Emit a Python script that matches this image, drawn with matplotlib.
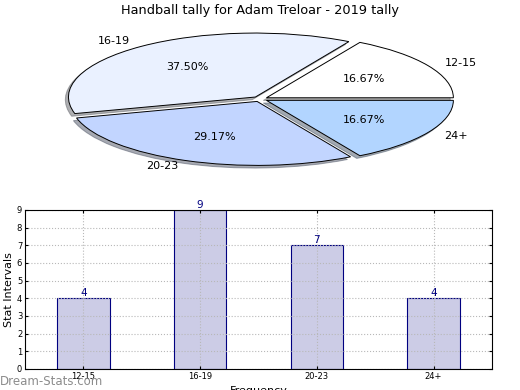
import numpy as np
import matplotlib
matplotlib.use("Agg")
import matplotlib.pyplot as plt

title = "Handball tally for Adam Treloar - 2019 tally"
categories = ["12-15", "16-19", "20-23", "24+"]
counts = [4, 9, 7, 4]
pie_colors = ["#ffffff", "#eaf1ff", "#c2d5ff", "#b2d5ff"]

fig = plt.figure(figsize=(5.2, 3.9), dpi=100)

# pie on top, squashed into an ellipse
ax_pie = fig.add_axes([0.1404, 0.582, 0.719, 0.328])
wedges, texts, autotexts = ax_pie.pie(
    counts,
    labels=categories,
    colors=pie_colors,
    explode=[0.04] * len(counts),
    autopct="%.2f%%",
    pctdistance=0.6,
    labeldistance=1.1,
    startangle=0,
    shadow={"ox": -0.012, "oy": -0.03, "shade": 0.6},
    wedgeprops=dict(edgecolor="black", linewidth=0.7),
    textprops=dict(fontsize=8),
)
ax_pie.set_aspect("auto")
ax_pie.set_xlim(-1.0, 1.0)
ax_pie.set_ylim(-1.0, 1.0)
fig.text(0.5, 0.972, title, ha="center", va="center", fontsize=9.3)

# bar chart below
ax = fig.add_axes([0.048, 0.054, 0.898, 0.408])
x = np.arange(len(categories))
ax.bar(x, counts, width=0.45, color="#ccccе6".replace("е", "e"), edgecolor="#000080", linewidth=0.8)
for xi, c in zip(x, counts):
    ax.text(xi, c, str(c), ha="center", va="bottom", color="#000080", fontsize=7.5)
ax.set_xlim(-0.5, len(categories) - 0.5)
ax.set_ylim(0, 9)
ax.set_yticks(range(10))
ax.set_xticks(x)
ax.set_xticklabels(categories)
ax.tick_params(labelsize=6, direction="in", length=2, top=True, right=True, pad=2)
ax.set_axisbelow("line")  # grid above the bars, below the frame
ax.grid(True, linestyle=":", color="#b8b8b8", linewidth=0.8)
ax.set_ylabel("Stat Intervals", fontsize=8, labelpad=2)
ax.set_xlabel("Frequency", fontsize=8, labelpad=4)

fig.text(0.0, 0.022, "Dream-Stats.com", color="#8c8c8c", fontsize=8.5, ha="left", va="center")

fig.savefig("out.png", dpi=100)
